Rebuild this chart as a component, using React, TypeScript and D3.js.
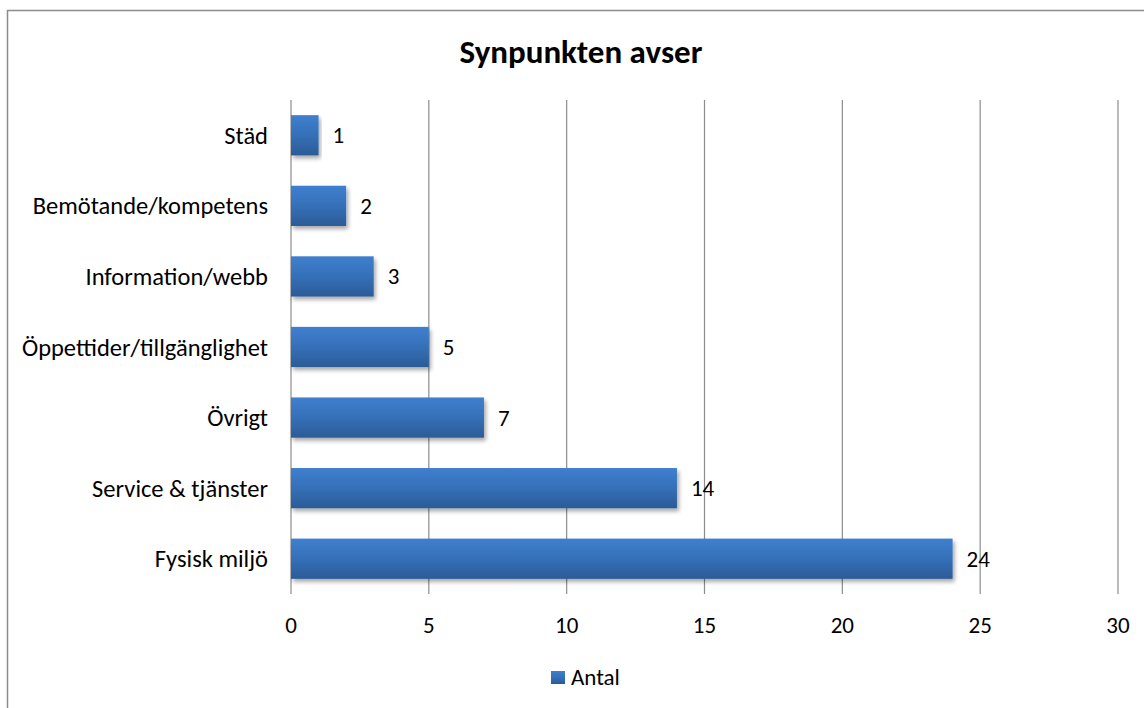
import React from "react";
import * as d3 from "d3";

const categories = ["Städ", "Bemötande/kompetens", "Information/webb", "Öppettider/tillgänglighet", "Övrigt", "Service & tjänster", "Fysisk miljö"];
const values = [1, 2, 3, 5, 7, 14, 24];
const xTicks = [0, 5, 10, 15, 20, 25, 30];
const seriesName = "Antal";
const title = "Synpunkten avser";

const font = "Carlito, Calibri, Lato, sans-serif";

export default function App() {
  const width = 1144;
  const height = 708;
  const left = 291;
  const right = 1118;
  const top = 100;
  const bottom = 594;

  const x = d3.scaleLinear().domain([0, 30]).range([left, right]);
  const y = d3.scaleBand().domain(categories).range([top, bottom]).paddingInner(0.43).paddingOuter(0.215);

  return (
    <svg width={width} height={height} style={{ position: "absolute", left: 0, top: 0, background: "white" }}>
      <defs>
        <linearGradient id="barFill" x1="0" y1="0" x2="0" y2="1">
          <stop offset="0" stopColor="#3f7fcf" />
          <stop offset="0.5" stopColor="#3570b8" />
          <stop offset="1" stopColor="#2b5b97" />
        </linearGradient>
        <filter id="shadow" x="-5%" y="-20%" width="115%" height="160%">
          <feGaussianBlur in="SourceAlpha" stdDeviation="2" />
          <feOffset dx="2" dy="3" result="b" />
          <feComponentTransfer><feFuncA type="linear" slope="0.35" /></feComponentTransfer>
          <feMerge><feMergeNode /><feMergeNode in="SourceGraphic" /></feMerge>
        </filter>
      </defs>
      <rect x={7.5} y={10.5} width={1200} height={800} fill="white" stroke="#8c8c8c" strokeWidth={1.5} />
      <text x={581} y={63} textAnchor="middle" fontFamily={font} fontWeight="bold" fontSize={33} fill="#000">{title}</text>

      {xTicks.map(t => (
        <g key={t}>
          <line x1={x(t)} x2={x(t)} y1={top} y2={bottom} stroke="#8c8c8c" strokeWidth={1.2} />
          <text x={x(t)} y={633} textAnchor="middle" fontFamily={font} fontSize={23} fill="#000">{t}</text>
        </g>
      ))}

      {categories.map((c, i) => {
        const yc = (y(c) as number) + y.bandwidth() / 2;
        return (
          <g key={c}>
            <rect x={x(0)} y={y(c)} width={x(values[i]) - x(0)} height={y.bandwidth()} fill="url(#barFill)" filter="url(#shadow)" />
            <text x={268} y={yc} dy="0.35em" textAnchor="end" fontFamily={font} fontSize={24.5} fill="#000">{c}</text>
            <text x={x(values[i]) + 14} y={yc} dy="0.35em" fontFamily={font} fontSize={23} fill="#000">{values[i]}</text>
          </g>
        );
      })}

      <rect x={551} y={671} width={14} height={13} fill="url(#barFill)" />
      <text x={571} y={685} fontFamily={font} fontSize={23} fill="#000">{seriesName}</text>
    </svg>
  );
}
